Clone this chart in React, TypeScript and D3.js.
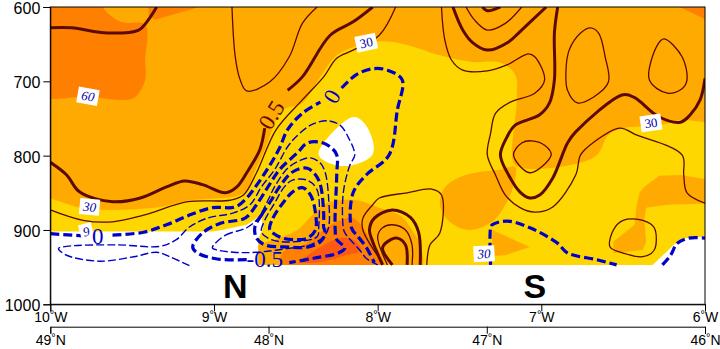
import * as d3 from "d3";
import React, { useEffect, useRef } from "react";

type Pt = [number, number]; // [longitude (negative = west), pressure hPa]

const pressureTicks = [600, 700, 800, 900, 1000];
const lonTicks = [-10, -9, -8, -7, -6];
const lonLabels = ["10", "9", "8", "7", "6"];
const latTicks = [49, 48, 47, 46];

// shaded areas
const amberDarkTopLeft: Pt[] = [[-10.1, 590], [-9.68, 590], [-9.68, 600], [-9.57, 620], [-9.42, 624], [-9.42, 671], [-9.42, 698], [-9.48, 721], [-9.54, 725], [-9.76, 721], [-10.1, 716]];
const amberDarkTopMid: Pt[] = [[-9.4, 590], [-9.4, 612], [-9.36, 617], [-9.09, 600], [-9.0, 590]];
const amberDarkTopRight: Pt[] = [[-6.2, 595], [-5.95, 622], [-5.95, 590]];
const yellowMain: Pt[] = [[-10.1, 858], [-9.82, 870], [-9.64, 873], [-9.33, 869], [-9.15, 860], [-8.95, 857], [-8.84, 853], [-8.79, 843], [-8.76, 826], [-8.69, 792], [-8.58, 739], [-8.46, 729], [-8.35, 694], [-8.25, 665], [-8.11, 651], [-7.97, 646], [-7.82, 651], [-7.62, 665], [-7.42, 674], [-7.25, 675], [-7.16, 691], [-7.15, 725], [-7.17, 810], [-7.11, 817], [-6.83, 813], [-6.66, 799], [-6.59, 772], [-6.5, 763], [-6.28, 759], [-6.15, 752], [-6.0, 755], [-5.9, 755], [-5.9, 960], [-10.1, 960]];
const amberBlob: Pt[] = [[-7.16, 815], [-7.25, 819], [-7.38, 822], [-7.5, 829], [-7.59, 843], [-7.62, 866], [-7.56, 889], [-7.44, 900], [-7.3, 889], [-7.22, 866], [-7.17, 840]];
const amberTongue: Pt[] = [[-7.3, 900], [-7.07, 923], [-7.22, 934], [-7.3, 935]];
const amberRight: Pt[] = [[-5.95, 833], [-6.15, 826], [-6.28, 827], [-6.37, 842], [-6.4, 850], [-6.42, 870], [-6.43, 893], [-6.56, 916], [-6.56, 931], [-6.38, 927], [-6.36, 916], [-6.37, 884], [-6.36, 870], [-6.23, 866], [-5.95, 864]];
const amberCentre: Pt[] = [[-8.74, 923], [-8.63, 913], [-8.49, 900], [-8.4, 880], [-8.31, 864], [-8.13, 860], [-7.99, 870], [-7.86, 881], [-7.79, 900], [-7.74, 920], [-7.74, 955], [-8.71, 955]];
const orangeCentre: Pt[] = [[-8.58, 930], [-8.47, 923], [-8.35, 903], [-8.25, 889], [-8.15, 884], [-8.05, 911], [-7.96, 955], [-8.58, 955]];
const redCentre: Pt[] = [[-8.47, 943], [-8.31, 918], [-8.23, 911], [-8.15, 913], [-8.1, 927], [-8.21, 935], [-8.35, 943]];
const whiteHole: Pt[] = [[-8.36, 799], [-8.25, 763], [-8.14, 748], [-8.06, 763], [-8.03, 798], [-8.21, 814]];
const terrainMask: Pt[] = [[-10.1, 902], [-9.01, 902], [-8.95, 900], [-8.8, 893], [-8.71, 880], [-8.7, 897], [-8.73, 913], [-8.73, 947], [-6.32, 947], [-6.19, 920], [-6.13, 911], [-6.0, 909], [-5.9, 909], [-5.9, 1010], [-10.1, 1010]];

// brown contours, thick
const brownThick: Pt[][] = [
  [[-10, 628], [-9.87, 628], [-9.65, 635], [-9.46, 631], [-9.41, 620], [-9.35, 600]],
  [[-10, 809], [-9.9, 826], [-9.82, 849], [-9.62, 862], [-9.45, 857], [-9.29, 842], [-9.18, 834], [-9.07, 839], [-8.93, 850], [-8.86, 842], [-8.8, 823], [-8.72, 792], [-8.69, 763]],
  [[-8.55, 712], [-8.46, 694], [-8.29, 638], [-8.15, 620], [-8.03, 600]],
  [[-7.54, 600], [-7.48, 631], [-7.42, 648], [-7.33, 658], [-7.2, 647], [-7.13, 633], [-6.97, 600]],
  [[-7.36, 600], [-7.33, 605], [-7.25, 600]],
  [[-6.9, 600], [-6.92, 635], [-6.92, 698], [-6.95, 729], [-7.01, 745], [-7.16, 759], [-7.21, 775], [-7.25, 799], [-7.2, 826], [-7.13, 849], [-7.07, 857], [-7.01, 853], [-6.93, 830], [-6.84, 783], [-6.79, 768], [-6.5, 718], [-6.43, 722], [-6.28, 748], [-6.15, 755], [-6.09, 745], [-6.03, 725], [-6.0, 696]],
  [[-7.97, 947], [-8.03, 916], [-8.05, 900], [-8.02, 884], [-7.91, 873], [-7.8, 883], [-7.75, 903], [-7.74, 947]],
  [[-7.91, 947], [-7.97, 924], [-7.92, 913], [-7.88, 911], [-7.83, 920], [-7.82, 947]],
];

// brown contours, thin
const brownThin: Pt[][] = [
  [[-10, 873], [-9.8, 887], [-9.62, 889], [-9.43, 880], [-9.16, 862], [-8.9, 860], [-8.82, 853], [-8.74, 823], [-8.62, 765], [-8.46, 725], [-8.33, 694], [-8.25, 669], [-8.15, 658], [-7.99, 638], [-7.89, 600]],
  [[-8.89, 600], [-8.87, 667], [-8.84, 698], [-8.8, 713], [-8.66, 701], [-8.54, 667], [-8.46, 622], [-8.37, 600]],
  [[-7.61, 600], [-7.59, 644], [-7.55, 671], [-7.48, 685], [-7.33, 686], [-7.21, 678], [-7.08, 663], [-7.04, 667], [-6.98, 698], [-7.04, 716], [-7.19, 728], [-7.28, 743], [-7.31, 770], [-7.33, 799], [-7.28, 826], [-7.22, 853], [-7.13, 870], [-7.04, 876], [-6.93, 869], [-6.79, 826], [-6.76, 799], [-6.68, 782], [-6.52, 763], [-6.42, 772], [-6.14, 799], [-6.13, 826], [-6.11, 850], [-6.0, 864]],
  [[-7.46, 600], [-7.41, 617], [-7.33, 631], [-7.22, 622], [-7.12, 600]],
  [[-7.97, 944], [-8.09, 900], [-8.09, 884], [-8.03, 866], [-7.99, 857], [-7.82, 850], [-7.67, 845], [-7.61, 853], [-7.62, 904], [-7.68, 920], [-7.7, 947]],
  [[-7.94, 947], [-8.0, 909], [-7.97, 897], [-7.91, 893], [-7.83, 900], [-7.79, 920], [-7.79, 947]],
];

const brownLoops: Pt[][] = [
  [[-6.7, 628], [-6.76, 635], [-6.83, 658], [-6.85, 689], [-6.84, 712], [-6.78, 729], [-6.68, 721], [-6.59, 701], [-6.61, 667], [-6.65, 635]],
  [[-6.25, 643], [-6.29, 651], [-6.34, 698], [-6.23, 716], [-6.14, 710], [-6.11, 698], [-6.14, 667]],
  [[-7.06, 780], [-7.12, 783], [-7.17, 799], [-7.07, 823], [-6.94, 799], [-6.98, 786]],
  [[-6.56, 900], [-6.58, 923], [-6.5, 931], [-6.38, 936], [-6.31, 927], [-6.31, 897], [-6.38, 887], [-6.5, 887]],
];

// blue dashed contours
const blueThick: Pt[][] = [
  [[-10, 905], [-9.8, 908]],
  [[-9.62, 907], [-9.43, 903], [-9.29, 893], [-9.15, 880], [-9.01, 870], [-8.87, 869], [-8.8, 857], [-8.76, 846], [-8.67, 817], [-8.6, 790], [-8.55, 765], [-8.46, 743], [-8.35, 728]],
  [[-8.22, 709], [-8.13, 691], [-8.03, 683], [-7.94, 685], [-7.85, 698], [-7.88, 739], [-7.93, 799], [-8.07, 826], [-8.15, 850], [-8.16, 897], [-8.12, 909], [-8.07, 923], [-8.02, 944]],
  [[-8.8, 940], [-8.98, 939], [-9.1, 931], [-9.13, 923], [-9.07, 904], [-8.96, 891], [-8.81, 884], [-8.74, 866], [-8.67, 842], [-8.6, 819], [-8.49, 796], [-8.43, 783], [-8.35, 782], [-8.29, 788], [-8.25, 799], [-8.25, 826], [-8.26, 896], [-8.25, 913], [-8.2, 924], [-8.24, 931], [-8.39, 938], [-8.54, 944]],
  [[-7.31, 947], [-7.31, 897], [-7.3, 893], [-7.21, 888], [-7.07, 897], [-6.9, 918], [-6.84, 931], [-6.66, 940], [-6.54, 947]],
  [[-6.26, 947], [-6.21, 934], [-6.17, 918], [-6.1, 911], [-6.0, 911]],
];

const blueThin: Pt[][] = [
  [[-9.15, 948], [-9.27, 936], [-9.35, 930], [-9.49, 936], [-9.7, 942], [-9.9, 934], [-9.95, 925], [-9.9, 922], [-9.59, 920], [-9.33, 922], [-9.23, 913], [-9.15, 896], [-9.04, 884], [-8.88, 877], [-8.78, 866], [-8.71, 842], [-8.63, 819], [-8.55, 788], [-8.5, 775], [-8.41, 759], [-8.31, 753], [-8.23, 759], [-8.18, 775], [-8.14, 799], [-8.17, 813], [-8.21, 850], [-8.21, 897], [-8.2, 904], [-8.11, 927], [-8.07, 938], [-8.0, 947]],
];

const blueThickLoops: Pt[][] = [
  [[-8.75, 896], [-8.71, 880], [-8.65, 860], [-8.6, 842], [-8.52, 822], [-8.43, 817], [-8.36, 833], [-8.33, 877], [-8.33, 896], [-8.32, 904], [-8.35, 916], [-8.43, 923], [-8.54, 923], [-8.69, 920], [-8.74, 911]],
  [[-8.66, 899], [-8.64, 884], [-8.58, 864], [-8.52, 849], [-8.46, 843], [-8.41, 853], [-8.38, 877], [-8.38, 900], [-8.43, 911], [-8.5, 913], [-8.58, 911], [-8.64, 904]],
];

const blueThinLoops: Pt[][] = [
  [[-9.01, 924], [-8.93, 907], [-8.8, 897], [-8.73, 884], [-8.67, 860], [-8.63, 842], [-8.55, 817], [-8.47, 806], [-8.41, 803], [-8.35, 810], [-8.32, 823], [-8.3, 856], [-8.3, 897], [-8.33, 909], [-8.41, 920], [-8.46, 922], [-8.74, 930], [-8.88, 930], [-8.98, 927]],
  [[-8.71, 903], [-8.69, 887], [-8.63, 864], [-8.57, 842], [-8.52, 833], [-8.43, 833], [-8.37, 846], [-8.36, 896], [-8.37, 909], [-8.52, 916], [-8.65, 913]],
];

const boxLabels = [
  { text: "60", lon: -9.77, p: 720, angle: 10, italic: true, w: 21 },
  { text: "30", lon: -8.07, p: 648, angle: -12, italic: false, w: 21 },
  { text: "30", lon: -6.33, p: 756, angle: -8, italic: false, w: 21 },
  { text: "30", lon: -9.76, p: 869, angle: 5, italic: true, w: 20 },
  { text: "30", lon: -7.35, p: 932, angle: -3, italic: true, w: 21 },
  { text: "9", lon: -9.78, p: 902, angle: -15, italic: true, w: 13 },
];

const contourLabels = [
  { text: "0.5", lon: -8.65, p: 745, angle: -58, colour: "#5c0a00" },
  { text: "0", lon: -8.28, p: 720, angle: -60, colour: "#0000c8" },
  { text: "0", lon: -9.71, p: 908, angle: 0, colour: "#0000c8" },
  { text: "-0.5", lon: -8.69, p: 939, angle: 0, colour: "#0000c8" },
];

const regionLabels = [
  { text: "N", lon: -8.87, p: 975 },
  { text: "S", lon: -7.04, p: 975 },
];

const WIDTH = 720;
const HEIGHT = 349;
const left = 50.3;
const right = 705;
const top = 7;
const bottom = 304.3;
const secondAxisY = 326.7;

const x = d3.scaleLinear().domain([-10, -6]).range([left, right]);
const y = d3.scaleLinear().domain([600, 1000]).range([top, bottom]);
const latX = d3.scaleLinear().domain([49, 46]).range([left, right]);

const curve = d3.curveCatmullRom.alpha(0.5);
const line = d3.line<Pt>().x((d) => x(d[0])).y((d) => y(d[1])).curve(curve);
const loop = d3.line<Pt>().x((d) => x(d[0])).y((d) => y(d[1])).curve(d3.curveCatmullRomClosed.alpha(0.5));
const poly = d3.line<Pt>().x((d) => x(d[0])).y((d) => y(d[1]));

const AMBER = "#ffaa00";
const ORANGE = "#ff8000";
const YELLOW = "#ffd700";
const RED = "#ff5a14";
const BROWN = "#5c0a00";
const BLUE = "#0000c8";
const SANS = "'Liberation Sans', Arial, sans-serif";
const SERIF = "'Liberation Serif', 'Times New Roman', serif";

function degreeLabel(sel: any, num: (d: any, i: number) => string, hemi: string) {
  sel.each(function (this: any, d: any, i: number) {
    const t = d3.select(this);
    t.text(null);
    t.append("tspan").text(num(d, i));
    t.append("tspan").attr("font-size", 11).attr("dy", -4).text("°");
    t.append("tspan").attr("dy", 4).text(hemi);
  });
}

export default function App() {
  const yAxisRef = useRef<SVGGElement>(null);
  const xAxisRef = useRef<SVGGElement>(null);
  const latAxisRef = useRef<SVGGElement>(null);

  useEffect(() => {
    const yAxis = d3.select(yAxisRef.current);
    yAxis.call(d3.axisLeft(y).tickValues(pressureTicks).tickSize(7).tickPadding(3).tickFormat(d3.format("d")) as any);
    yAxis.selectAll("text").attr("font-size", 16).attr("font-family", SANS).attr("dy", "0.4em");

    const xAxis = d3.select(xAxisRef.current);
    xAxis.call(d3.axisBottom(x).tickValues(lonTicks).tickSize(7).tickPadding(1) as any);
    xAxis.selectAll("text").attr("font-size", 14).attr("font-family", SANS).call(degreeLabel, (_d: any, i: number) => lonLabels[i], "W");

    const latAxis = d3.select(latAxisRef.current);
    latAxis.call(d3.axisBottom(latX).tickValues(latTicks).tickSize(7).tickPadding(1) as any);
    latAxis.selectAll("text").attr("font-size", 14).attr("font-family", SANS).call(degreeLabel, (d: any) => String(d), "N");
  }, []);

  return (
    <svg width={WIDTH} height={HEIGHT} style={{ position: "absolute", left: 0, top: 0, display: "block" }}>
      <defs>
        <clipPath id="plot">
          <rect x={left} y={top} width={right - left} height={bottom - top} />
        </clipPath>
      </defs>
      <g clipPath="url(#plot)">
        <rect x={left} y={top} width={right - left} height={bottom - top} fill={AMBER} />
        <path d={loop(amberDarkTopLeft)!} fill={ORANGE} />
        <path d={poly(amberDarkTopMid)!} fill={ORANGE} />
        <path d={poly(amberDarkTopRight)!} fill={ORANGE} />
        <path d={loop(yellowMain)!} fill={YELLOW} />
        <path d={loop(amberBlob)!} fill={AMBER} />
        <path d={poly(amberTongue)!} fill={AMBER} />
        <path d={poly(amberRight)!} fill={AMBER} />
        <path d={loop(amberCentre)!} fill={AMBER} />
        <path d={loop(orangeCentre)!} fill={ORANGE} />
        <path d={loop(redCentre)!} fill={RED} />
        <path d={loop(whiteHole)!} fill="#fff" />
        <path d={poly(terrainMask)!} fill="#fff" />

        {brownThin.map((d, i) => (
          <path key={i} d={line(d)!} fill="none" stroke={BROWN} strokeWidth={1.3} />
        ))}
        {brownLoops.map((d, i) => (
          <path key={i} d={loop(d)!} fill="none" stroke={BROWN} strokeWidth={1.3} />
        ))}
        {brownThick.map((d, i) => (
          <path key={i} d={line(d)!} fill="none" stroke={BROWN} strokeWidth={3} />
        ))}
        {blueThin.map((d, i) => (
          <path key={i} d={line(d)!} fill="none" stroke={BLUE} strokeWidth={1.4} strokeDasharray="8 3" />
        ))}
        {blueThinLoops.map((d, i) => (
          <path key={i} d={loop(d)!} fill="none" stroke={BLUE} strokeWidth={1.4} strokeDasharray="8 3" />
        ))}
        {blueThick.map((d, i) => (
          <path key={i} d={line(d)!} fill="none" stroke={BLUE} strokeWidth={3.2} strokeDasharray="9 4" />
        ))}
        {blueThickLoops.map((d, i) => (
          <path key={i} d={loop(d)!} fill="none" stroke={BLUE} strokeWidth={3.2} strokeDasharray="9 4" />
        ))}

        {boxLabels.map((d, i) => (
          <g key={i} transform={`translate(${x(d.lon)},${y(d.p)}) rotate(${d.angle})`}>
            <rect x={-d.w / 2} y={-8} width={d.w} height={16} fill="#fff" />
            <text textAnchor="middle" y={4.5} fontSize={13} fontFamily={SERIF} fontStyle={d.italic ? "italic" : "normal"} fill="#0000a8">
              {d.text}
            </text>
          </g>
        ))}
        {contourLabels.map((d, i) => (
          <text key={i} transform={`translate(${x(d.lon)},${y(d.p)}) rotate(${d.angle})`} textAnchor="middle" y={8} fontSize={23} fontFamily={SERIF} fill={d.colour}>
            {d.text}
          </text>
        ))}
      </g>
      {regionLabels.map((d, i) => (
        <text key={i} x={x(d.lon)} y={y(d.p) + 12} textAnchor="middle" fontSize={34} fontWeight="bold" fontFamily={SANS} fill="#000">
          {d.text}
        </text>
      ))}
      <rect x={left} y={top} width={right - left} height={bottom - top} fill="none" stroke="#000" strokeWidth={1} />
      <g ref={yAxisRef} transform={`translate(${left},0)`} />
      <g ref={xAxisRef} transform={`translate(0,${bottom})`} />
      <g ref={latAxisRef} transform={`translate(0,${secondAxisY})`} />
    </svg>
  );
}
